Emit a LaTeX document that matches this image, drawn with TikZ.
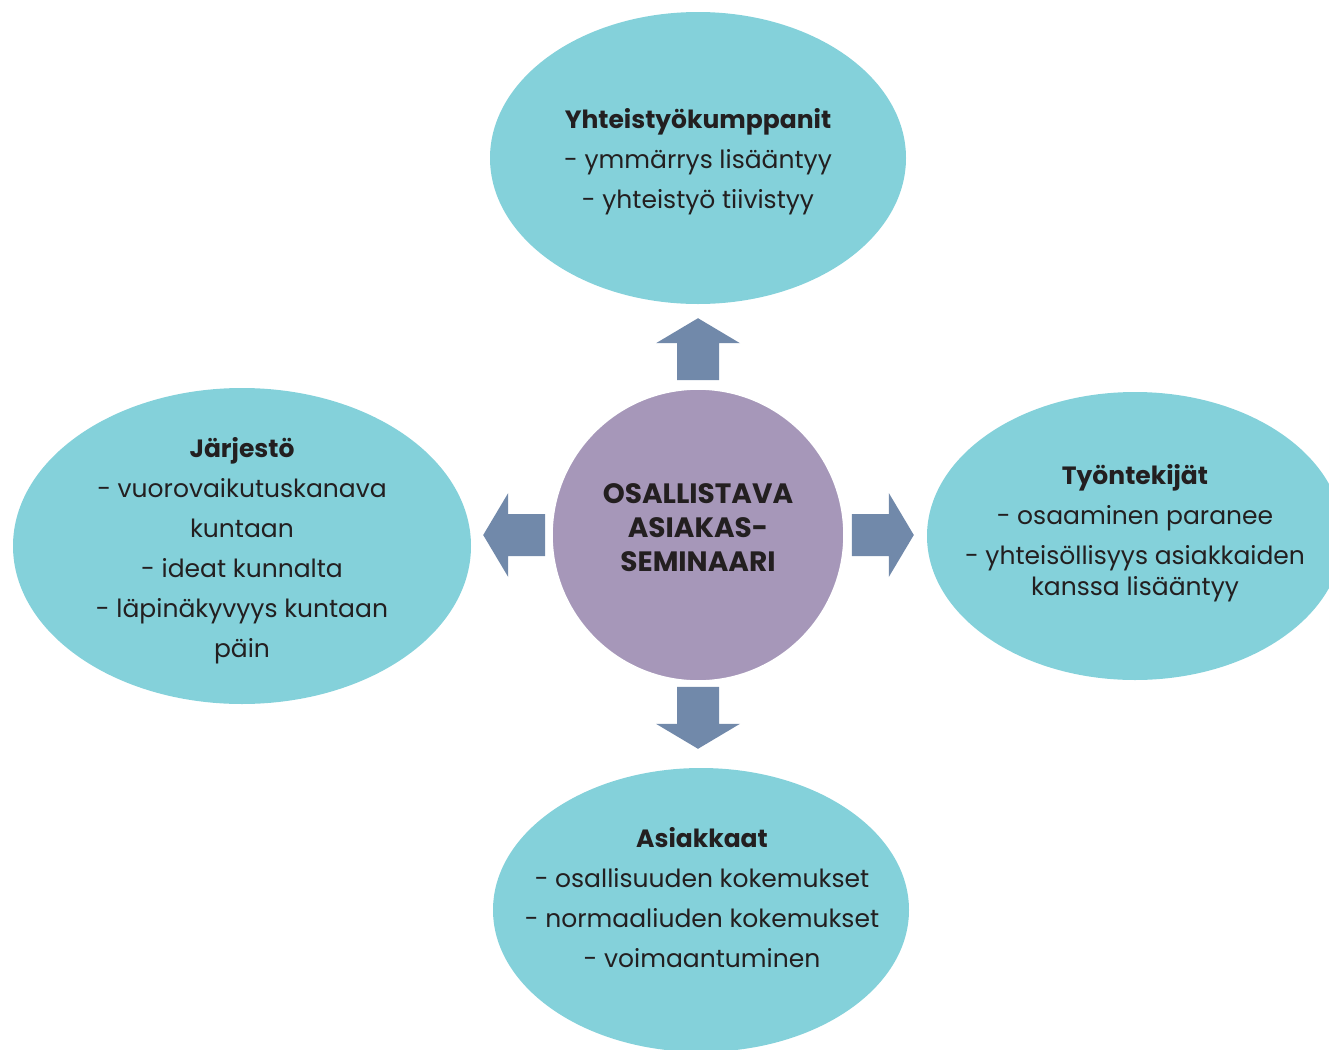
\documentclass[tikz,border=0pt]{standalone}
\usepackage{fontspec}
\setmainfont{Poppins}
\usetikzlibrary{shapes.geometric,calc}

\definecolor{bubblecol}{RGB}{132,209,218}
\definecolor{hubcol}{RGB}{166,151,185}
\definecolor{arrowcol}{RGB}{113,137,170}
\definecolor{ink}{RGB}{35,31,32}

\tikzset{
  bubble/.style={ellipse, fill=bubblecol, inner sep=0pt},
  bubbletext/.style={align=center, text=ink, inner sep=0pt, font=\fontsize{12.5}{20}\selectfont},
  hub/.style={circle, fill=hubcol, draw=white, line width=0.8pt, minimum size=146pt, inner sep=0pt},
  hubtext/.style={align=center, text=ink, inner sep=0pt, font=\bfseries\fontsize{14}{17}\selectfont},
  % fat arrow, base at the origin, pointing along +x
  blockarrow/.pic={\fill[arrowcol] (0,-21) -- (37,-21) -- (37,-42) -- (62,0) -- (37,42) -- (37,21) -- (0,21) -- cycle;}
}

\begin{document}
\begin{tikzpicture}[x=0.5pt,y=-0.5pt]
	\useasboundingbox (0,0) rectangle (1329,1050);
	\clip (0,0) rectangle (1329,1050);

	% the four groups
	\node[bubble, minimum width=208pt, minimum height=146pt] (kumppanit) at (698,158) {};
	\node[bubble, minimum width=229pt, minimum height=158pt] (jarjesto) at (242,546) {};
	\node[bubble, minimum width=208pt, minimum height=144pt] (tyontekijat) at (1135,536) {};
	\node[bubble, minimum width=208pt, minimum height=142pt] (asiakkaat) at (701,910) {};

	\node[bubbletext] (kumppanitxt) at (698,162) {\textbf{Yhteistyökumppanit}\\- ymmärrys lisääntyy\\- yhteistyö tiivistyy};
	\node[bubbletext] (jarjestotxt) at (242,551) {\textbf{Järjestö}\\- vuorovaikutuskanava\\kuntaan\\- ideat kunnalta\\- läpinäkyvyys kuntaan\\päin};
	\node[bubbletext] (tyontekijattxt) at (1135,533) {\textbf{Työntekijät}\\- osaaminen paranee\\- yhteisöllisyys asiakkaiden\\[-4.5pt]kanssa lisääntyy};
	\node[bubbletext] (asiakkaattxt) at (702,898) {\textbf{Asiakkaat}\\- osallisuuden kokemukset\\- normaaliuden kokemukset\\- voimaantuminen};

	% seminar in the middle
	\node[hub] (seminaari) at (698,535) {};
	\node[hubtext] (seminaaritxt) at ($(seminaari)+(0,-7)$) {OSALLISTAVA\\ASIAKAS-\\SEMINAARI};

	% arrows out of the middle
	\pic[rotate=90] at ($(seminaari.north)+(0,-8)$) {blockarrow};
	\pic[rotate=-90] at ($(seminaari.south)+(0,5)$) {blockarrow};
	\pic[rotate=180] at ($(seminaari.west)+(-6,0)$) {blockarrow};
	\pic at ($(seminaari.east)+(7,0)$) {blockarrow};
\end{tikzpicture}
\end{document}
